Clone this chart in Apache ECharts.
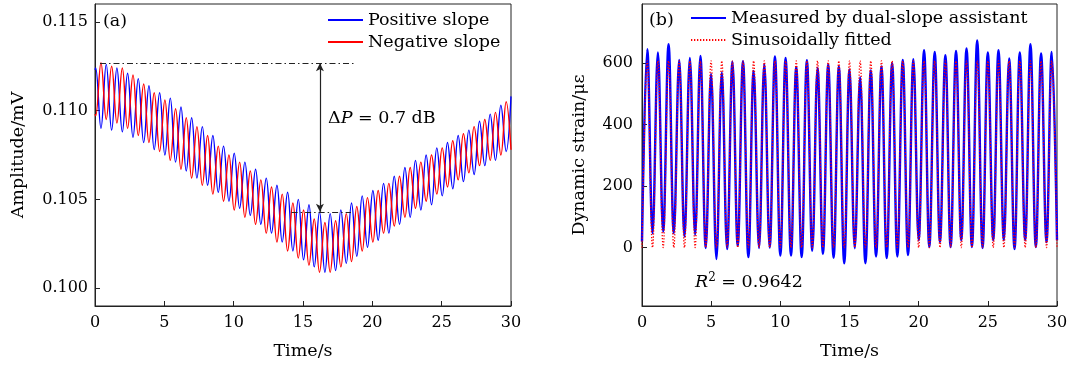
<!DOCTYPE html>
<html>
<head>
<meta charset="utf-8">
<script src="https://cdn.jsdelivr.net/npm/echarts@6/dist/echarts.min.js"></script>
<style>
html,body{margin:0;padding:0;background:#fff;}
#c{width:1073px;height:369px;}
</style>
</head>
<body>
<div id="c"></div>
<script>
// ---------- data ----------
const xTicks = [0, 5, 10, 15, 20, 25, 30];
const ampTicks = [0.100, 0.105, 0.110, 0.115];
const strainTicks = [0, 200, 400, 600];

// panel (a): times of the turning points (s)
const ampTimes = [0, 0.05, 0.43, 0.81, 1.20, 1.58, 1.97, 2.35, 2.74, 3.12, 3.51, 3.89, 4.27, 4.66, 5.04, 5.43, 5.81, 6.20, 6.58, 6.97, 7.35, 7.74, 8.12, 8.50, 8.89, 9.27, 9.66, 10.04, 10.43, 10.81, 11.20, 11.58, 11.96, 12.35, 12.73, 13.12, 13.50, 13.89, 14.27, 14.66, 15.04, 15.43, 15.81, 16.19, 16.58, 16.96, 17.35, 17.73, 18.12, 18.50, 18.88, 19.27, 19.65, 20.04, 20.42, 20.81, 21.19, 21.58, 21.96, 22.35, 22.73, 23.11, 23.50, 23.88, 24.27, 24.65, 25.04, 25.42, 25.80, 26.19, 26.57, 26.96, 27.34, 27.73, 28.11, 28.50, 28.88, 29.27, 29.65, 30.00];
// Positive slope amplitude (mV)
const positiveSlope = [0.1123,
  0.1124, 0.1090, 0.1126, 0.1089, 0.1124, 0.1088, 0.1121, 0.1085, 0.1118, 0.1082,
  0.1114, 0.1078, 0.1110, 0.1075, 0.1107, 0.1071, 0.1102, 0.1066, 0.1096, 0.1062,
  0.1091, 0.1058, 0.1086, 0.1054, 0.1080, 0.1049, 0.1076, 0.1045, 0.1071, 0.1041,
  0.1067, 0.1036, 0.1062, 0.1031, 0.1058, 0.1026, 0.1054, 0.1021, 0.1050, 0.1016,
  0.1047, 0.1012, 0.1043, 0.1009, 0.1042, 0.1010, 0.1044, 0.1014, 0.1048, 0.1018,
  0.1052, 0.1023, 0.1055, 0.1027, 0.1059, 0.1031, 0.1063, 0.1036, 0.1068, 0.1040,
  0.1072, 0.1044, 0.1075, 0.1047, 0.1079, 0.1052, 0.1082, 0.1056, 0.1086, 0.1060,
  0.1089, 0.1064, 0.1094, 0.1069, 0.1098, 0.1072, 0.1103, 0.1077,
  0.1108];
// Negative slope amplitude (mV)
const negativeSlope = [0.1098,
  0.1097, 0.1127, 0.1095, 0.1125, 0.1093, 0.1124, 0.1090, 0.1120, 0.1086, 0.1115,
  0.1082, 0.1110, 0.1077, 0.1106, 0.1072, 0.1101, 0.1067, 0.1096, 0.1062, 0.1091,
  0.1058, 0.1086, 0.1053, 0.1080, 0.1049, 0.1075, 0.1044, 0.1071, 0.1040, 0.1066,
  0.1036, 0.1061, 0.1031, 0.1057, 0.1026, 0.1053, 0.1021, 0.1048, 0.1017, 0.1044,
  0.1013, 0.1039, 0.1009, 0.1037, 0.1009, 0.1038, 0.1012, 0.1042, 0.1015, 0.1046,
  0.1021, 0.1051, 0.1026, 0.1055, 0.1031, 0.1059, 0.1035, 0.1063, 0.1040, 0.1068,
  0.1045, 0.1071, 0.1049, 0.1075, 0.1053, 0.1079, 0.1057, 0.1083, 0.1061, 0.1087,
  0.1065, 0.1091, 0.1069, 0.1095, 0.1072, 0.1099, 0.1075, 0.1105,
  0.1078];
// ΔP annotation (time, upper level, lower level, line extents)
const deltaTime = 16.22;
const deltaUpper = 0.11266;
const deltaLower = 0.10430;
const upperSpan = [0.36, 18.75];
const lowerSpan = [14.18, 18.46];

// panel (b): times of the turning points (s)
const strainTimes = [0, 0.38, 0.76, 1.15, 1.53, 1.92, 2.30, 2.69, 3.07, 3.46, 3.84, 4.22, 4.61, 4.99, 5.38, 5.77, 6.15, 6.54, 6.92, 7.30, 7.69, 8.07, 8.46, 8.84, 9.23, 9.61, 10.00, 10.38, 10.77, 11.15, 11.54, 11.92, 12.31, 12.69, 13.08, 13.46, 13.85, 14.23, 14.62, 15.00, 15.38, 15.77, 16.15, 16.54, 16.92, 17.31, 17.69, 18.08, 18.46, 18.85, 19.23, 19.62, 20.00, 20.39, 20.77, 21.16, 21.54, 21.93, 22.31, 22.70, 23.08, 23.46, 23.85, 24.23, 24.62, 25.00, 25.39, 25.77, 26.16, 26.54, 26.93, 27.31, 27.70, 28.08, 28.47, 28.85, 29.24, 29.62, 30.00];
// Measured by dual-slope assistant (με)
const measured = [20, 646, 47, 635, 52, 662, 47, 611, 36, 617, 42, 624, -1, 565, -37, 570, -5, 605, 6, 607,
  -31, 575, -1, 598, 0, 622, -26, 617, -26, 588, -31, 610, -10, 585, -20, 596, -33, 590, -51, 580,
  -2, 555, -51, 577, -29, 590, -34, 600, -29, 611, -24, 613, 24, 643, 2, 637, 18, 626, 2, 640,
  24, 648, 2, 674, -1, 635, 24, 643, 24, 616, -5, 635, 24, 662, 2, 632, 18, 637, 24];
// Sinusoidally fitted (με)
const fitted = [0, 608, 0, 608, 0, 608, 0, 608, 0, 608, 0, 608, 0, 608, 0, 608, 0, 608, 0, 608,
  0, 608, 0, 608, 0, 608, 0, 608, 0, 608, 0, 608, 0, 608, 0, 608, 0, 608, 0, 608,
  0, 608, 0, 608, 0, 608, 0, 608, 0, 608, 0, 608, 0, 608, 0, 608, 0, 608, 0, 608,
  0, 608, 0, 608, 0, 608, 0, 608, 0, 608, 0, 608, 0, 608, 0, 608, 0, 608, 0];

// ---------- chart ----------
const serif = 'DejaVu Serif';
const numSize = 16;
const txtSize = 17.5;
const pair = (ts, vs) => ts.map((t, i) => [t, vs[i]]);
const axisColor = '#222';

function xAxisOf(grid) {
  return {
    gridIndex: grid, type: 'value', min: 0, max: 30, interval: 5,
    name: 'Time/s', nameLocation: 'middle', nameGap: 36,
    nameTextStyle: {fontFamily: serif, fontSize: txtSize, color: '#000'},
    axisLine: {show: true, onZero: false, lineStyle: {color: axisColor, width: 1}},
    axisTick: {show: true, inside: true, length: 5, lineStyle: {color: axisColor}},
    axisLabel: {margin: 9, color: '#000', fontFamily: serif, fontSize: numSize},
    splitLine: {show: false}
  };
}

const legendBase = {
  orient: 'vertical', itemWidth: 35, itemHeight: 14, itemGap: 4, padding: 0,
  itemStyle: {opacity: 0},
  textStyle: {fontFamily: serif, fontSize: txtSize, color: '#000'}
};

const chart = echarts.init(document.getElementById('c'));
chart.setOption({
  animation: false,
  backgroundColor: '#fff',
  grid: [
    {left: 95, top: 4, width: 416, height: 302, show: true, borderColor: axisColor, borderWidth: 1},
    {left: 642, top: 4, width: 415, height: 302, show: true, borderColor: axisColor, borderWidth: 1}
  ],
  xAxis: [xAxisOf(0), xAxisOf(1)],
  yAxis: [
    {
      gridIndex: 0, type: 'value', min: 0.099, max: 0.116,
      name: 'Amplitude/mV', nameLocation: 'middle', nameGap: 68,
      nameTextStyle: {fontFamily: serif, fontSize: txtSize, color: '#000'},
      axisLine: {show: true, onZero: false, lineStyle: {color: axisColor}},
      axisTick: {show: true, inside: true, length: 5, customValues: ampTicks, lineStyle: {color: axisColor}},
      axisLabel: {customValues: ampTicks, formatter: v => v.toFixed(3), margin: 7, color: '#000', fontFamily: serif, fontSize: numSize},
      splitLine: {show: false}
    },
    {
      gridIndex: 1, type: 'value', min: -190, max: 793,
      name: 'Dynamic strain/\u03bc\u03b5', nameLocation: 'middle', nameGap: 54,
      nameTextStyle: {fontFamily: serif, fontSize: txtSize, color: '#000'},
      axisLine: {show: true, onZero: false, lineStyle: {color: axisColor}},
      axisTick: {show: true, inside: true, length: 5, customValues: strainTicks, lineStyle: {color: axisColor}},
      axisLabel: {customValues: strainTicks, margin: 9, color: '#000', fontFamily: serif, fontSize: numSize},
      splitLine: {show: false}
    }
  ],
  legend: [
    Object.assign({}, legendBase, {data: ['Positive slope', 'Negative slope'], left: 327, top: 11}),
    Object.assign({}, legendBase, {data: ['Measured by dual-slope assistant', 'Sinusoidally fitted'], left: 690, top: 9})
  ],
  series: [
    {
      name: 'Positive slope', type: 'line', xAxisIndex: 0, yAxisIndex: 0,
      data: pair(ampTimes, positiveSlope), smooth: 0.4, symbol: 'none',
      lineStyle: {color: '#0000ff', width: 1.4}, itemStyle: {color: '#0000ff'},
      markLine: {
        silent: true, symbol: 'none', label: {show: false},
        lineStyle: {color: '#222', width: 1, type: [6, 3, 1.5, 3]},
        data: [
          [{coord: [upperSpan[0], deltaUpper]}, {coord: [upperSpan[1], deltaUpper]}],
          [{coord: [lowerSpan[0], deltaLower]}, {coord: [lowerSpan[1], deltaLower]}]
        ]
      }
    },
    {
      name: 'Negative slope', type: 'line', xAxisIndex: 0, yAxisIndex: 0,
      data: pair(ampTimes, negativeSlope), smooth: 0.4, symbol: 'none',
      lineStyle: {color: '#ff0000', width: 1.4}, itemStyle: {color: '#ff0000'},
      markLine: {
        silent: true, symbol: ['arrow', 'arrow'], symbolSize: [6, 8], label: {show: false},
        lineStyle: {color: '#222', width: 1.2, type: 'solid'},
        data: [
          [{coord: [deltaTime, deltaUpper]}, {coord: [deltaTime, deltaLower]}]
        ]
      }
    },
    {
      name: 'Measured by dual-slope assistant', type: 'line', xAxisIndex: 1, yAxisIndex: 1,
      data: pair(strainTimes, measured), smooth: 0.4, symbol: 'none',
      lineStyle: {color: '#0000ff', width: 2.4}, itemStyle: {color: '#0000ff'}
    },
    {
      name: 'Sinusoidally fitted', type: 'line', xAxisIndex: 1, yAxisIndex: 1,
      data: pair(strainTimes, fitted), smooth: 0.4, symbol: 'none',
      lineStyle: {color: '#ff0000', width: 1.3, type: [1.3, 1.7]}, itemStyle: {color: '#ff0000'}
    }
  ],
  graphic: [
    {type: 'text', left: 103, top: 12, style: {text: '(a)', font: txtSize + 'px "DejaVu Serif"', fill: '#000'}},
    {type: 'text', left: 649, top: 11, style: {text: '(b)', font: txtSize + 'px "DejaVu Serif"', fill: '#000'}},
    {type: 'text', left: 328, top: 109, style: {
      text: '{n|\u0394}{i|P}{n| = 0.7 dB}',
      rich: {
        n: {fontFamily: serif, fontSize: txtSize, fill: '#000'},
        i: {fontFamily: serif, fontSize: txtSize, fontStyle: 'italic', fill: '#000'}
      }
    }},
    {type: 'text', left: 695, top: 272, style: {
      text: '{i|R}{s|2}{n| = 0.9642}',
      rich: {
        n: {fontFamily: serif, fontSize: txtSize, fill: '#000'},
        i: {fontFamily: serif, fontSize: txtSize, fontStyle: 'italic', fill: '#000'},
        s: {fontFamily: serif, fontSize: 12, fill: '#000', verticalAlign: 'top', padding: [0, 0, 8, 0]}
      }
    }}
  ]
});
</script>
</body>
</html>
